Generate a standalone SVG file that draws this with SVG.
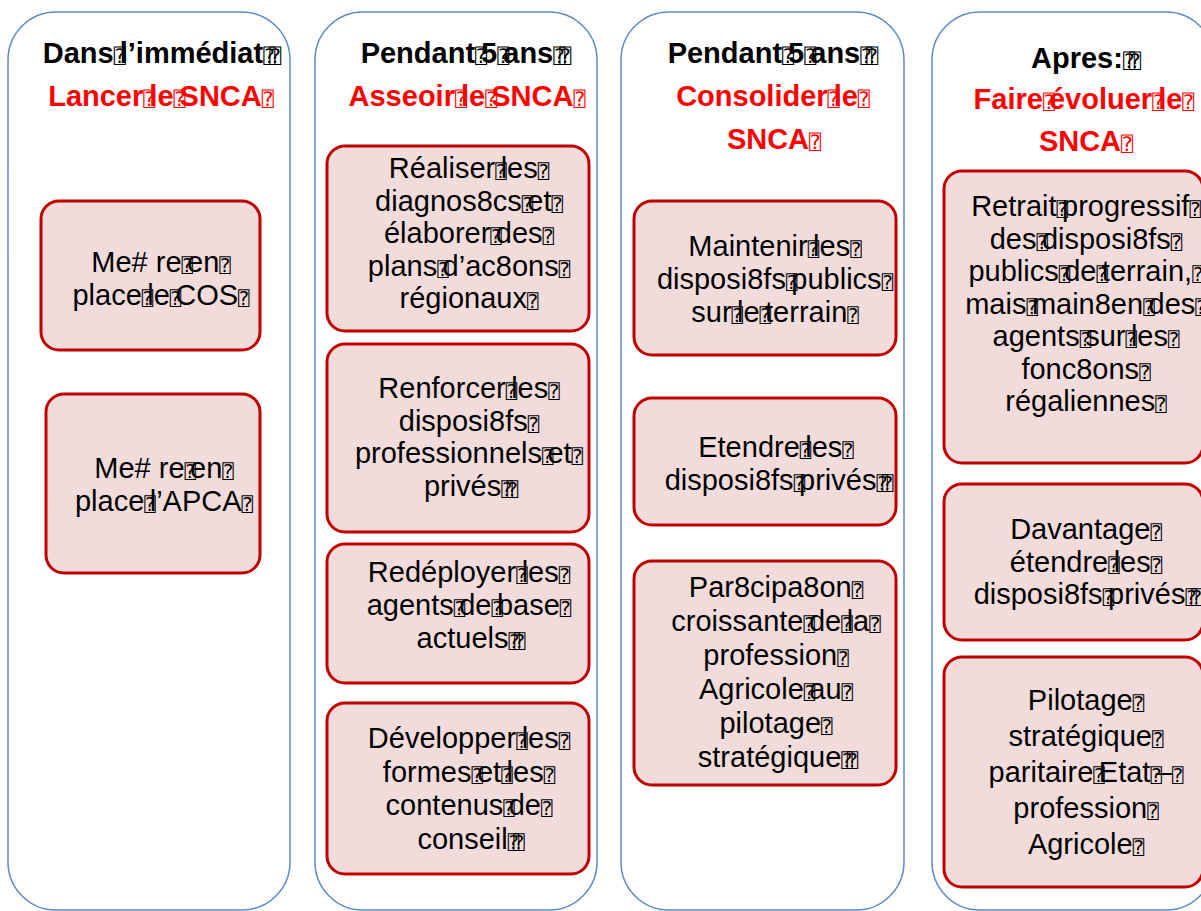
<svg xmlns="http://www.w3.org/2000/svg" width="1201" height="911" viewBox="0 0 1201 911">
<style>
.col{fill:#ffffff;stroke:#5b8bc9;stroke-width:1.5}
.box{fill:#f2dcdb;stroke:#c00000;stroke-width:3}
.h{font-family:"Liberation Sans",Arial,sans-serif;font-weight:bold;font-size:29px;fill:#000;text-anchor:middle}
.hr{font-family:"Liberation Sans",Arial,sans-serif;font-weight:bold;font-size:29px;fill:#ff0000;text-anchor:middle}
.t{font-family:"Liberation Sans",Arial,sans-serif;font-size:29px;fill:#000;text-anchor:middle}
.q{font-family:"DejaVu Sans","DejaVu Sans Mono",sans-serif;font-size:19px;font-weight:normal;letter-spacing:-6px}
.qh{font-family:"DejaVu Sans","DejaVu Sans Mono",sans-serif;font-size:20px;font-weight:normal;letter-spacing:-6px}
</style>
<rect width="1201" height="911" fill="#ffffff"/>
<g id="connectors"/>

<g id="col1">
<rect class="col" x="8" y="12" width="282" height="898" rx="48"/>
<text class="h" x="159" y="63">Dans<tspan class="qh">⍰</tspan>l’immédiat<tspan class="qh">⍰⍰</tspan></text>
<text class="hr" x="158" y="106">Lancer<tspan class="qh">⍰</tspan>le<tspan class="qh">⍰</tspan>SNCA<tspan class="qh">⍰</tspan></text>
</g>
<g id="c1b1">
<rect class="box" x="41" y="201" width="219" height="149" rx="18"/>
<text class="t" x="158" y="272">Me# re<tspan class="q">⍰</tspan>en<tspan class="q">⍰</tspan></text>
<text class="t" x="158" y="305">place<tspan class="q">⍰</tspan>le<tspan class="q">⍰</tspan>COS<tspan class="q">⍰</tspan></text>
</g>
<g id="c1b2">
<rect class="box" x="46" y="394" width="214" height="179" rx="18"/>
<text class="t" x="161" y="478">Me# re<tspan class="q">⍰</tspan>en<tspan class="q">⍰</tspan></text>
<text class="t" x="161" y="511">place<tspan class="q">⍰</tspan>l’APCA<tspan class="q">⍰</tspan></text>
</g>

<g id="col2">
<rect class="col" x="315" y="12" width="282" height="898" rx="48"/>
<text class="h" x="463" y="63">Pendant<tspan class="qh">⍰</tspan>5<tspan class="qh">⍰</tspan>ans<tspan class="qh">⍰⍰</tspan></text>
<text class="hr" x="464" y="106">Asseoir<tspan class="qh">⍰</tspan>le<tspan class="qh">⍰</tspan>SNCA<tspan class="qh">⍰</tspan></text>
</g>
<g id="c2b1">
<rect class="box" x="327" y="146" width="262" height="185" rx="18"/>
<text class="t" x="466" y="178">Réaliser<tspan class="q">⍰</tspan>les<tspan class="q">⍰</tspan></text>
<text class="t" x="466" y="210.5">diagnos8cs<tspan class="q">⍰</tspan>et<tspan class="q">⍰</tspan></text>
<text class="t" x="466" y="243">élaborer<tspan class="q">⍰</tspan>des<tspan class="q">⍰</tspan></text>
<text class="t" x="466" y="275.5">plans<tspan class="q">⍰</tspan>d’ac8ons<tspan class="q">⍰</tspan></text>
<text class="t" x="466" y="308">régionaux<tspan class="q">⍰</tspan></text>
</g>
<g id="c2b2">
<rect class="box" x="327" y="344" width="262" height="188" rx="18"/>
<text class="t" x="466" y="398">Renforcer<tspan class="q">⍰</tspan>les<tspan class="q">⍰</tspan></text>
<text class="t" x="466" y="430.5">disposi8fs<tspan class="q">⍰</tspan></text>
<text class="t" x="466" y="463">professionnels<tspan class="q">⍰</tspan>et<tspan class="q">⍰</tspan></text>
<text class="t" x="468" y="495.5">privés<tspan class="q">⍰⍰</tspan></text>
</g>
<g id="c2b3">
<rect class="box" x="327" y="544" width="262" height="139" rx="18"/>
<text class="t" x="466" y="582">Redéployer<tspan class="q">⍰</tspan>les<tspan class="q">⍰</tspan></text>
<text class="t" x="466" y="615">agents<tspan class="q">⍰</tspan>de<tspan class="q">⍰</tspan>base<tspan class="q">⍰</tspan></text>
<text class="t" x="468" y="648">actuels<tspan class="q">⍰⍰</tspan></text>
</g>
<g id="c2b4">
<rect class="box" x="327" y="703" width="262" height="171" rx="18"/>
<text class="t" x="466" y="748">Développer<tspan class="q">⍰</tspan>les<tspan class="q">⍰</tspan></text>
<text class="t" x="466" y="781.5">formes<tspan class="q">⍰</tspan>et<tspan class="q">⍰</tspan>les<tspan class="q">⍰</tspan></text>
<text class="t" x="466" y="815">contenus<tspan class="q">⍰</tspan>de<tspan class="q">⍰</tspan></text>
<text class="t" x="468" y="848.5">conseil<tspan class="q">⍰⍰</tspan></text>
</g>

<g id="col3">
<rect class="col" x="621" y="12" width="283" height="898" rx="48"/>
<text class="h" x="770" y="63">Pendant<tspan class="qh">⍰</tspan>5<tspan class="qh">⍰</tspan>ans<tspan class="qh">⍰⍰</tspan></text>
<text class="hr" x="770" y="106">Consolider<tspan class="qh">⍰</tspan>le<tspan class="qh">⍰</tspan></text>
<text class="hr" x="771" y="149">SNCA<tspan class="qh">⍰</tspan></text>
</g>
<g id="c3b1">
<rect class="box" x="634" y="201" width="262" height="154" rx="18"/>
<text class="t" x="772" y="256">Maintenir<tspan class="q">⍰</tspan>les<tspan class="q">⍰</tspan></text>
<text class="t" x="772" y="289">disposi8fs<tspan class="q">⍰</tspan>publics<tspan class="q">⍰</tspan></text>
<text class="t" x="772" y="322">sur<tspan class="q">⍰</tspan>le<tspan class="q">⍰</tspan>terrain<tspan class="q">⍰</tspan></text>
</g>
<g id="c3b2">
<rect class="box" x="634" y="398" width="262" height="127" rx="18"/>
<text class="t" x="773" y="457">Etendre<tspan class="q">⍰</tspan>les<tspan class="q">⍰</tspan></text>
<text class="t" x="776" y="490">disposi8fs<tspan class="q">⍰</tspan>privés<tspan class="q">⍰⍰</tspan></text>
</g>
<g id="c3b3">
<rect class="box" x="634" y="561" width="262" height="224" rx="18"/>
<text class="t" x="773" y="597">Par8cipa8on<tspan class="q">⍰</tspan></text>
<text class="t" x="773" y="631">croissante<tspan class="q">⍰</tspan>de<tspan class="q">⍰</tspan>la<tspan class="q">⍰</tspan></text>
<text class="t" x="773" y="665">profession<tspan class="q">⍰</tspan></text>
<text class="t" x="773" y="699">Agricole<tspan class="q">⍰</tspan>au<tspan class="q">⍰</tspan></text>
<text class="t" x="773" y="733">pilotage<tspan class="q">⍰</tspan></text>
<text class="t" x="775" y="767">stratégique<tspan class="q">⍰⍰</tspan></text>
</g>

<g id="col4">
<rect class="col" x="932" y="12" width="282" height="898" rx="48"/>
<text class="h" x="1083" y="68">Apres:<tspan class="qh">⍰⍰</tspan></text>
<text class="hr" x="1081" y="109">Faire<tspan class="qh">⍰</tspan>évoluer<tspan class="qh">⍰</tspan>le<tspan class="qh">⍰</tspan></text>
<text class="hr" x="1083" y="151">SNCA<tspan class="qh">⍰</tspan></text>
</g>
<g id="c4b1">
<rect class="box" x="944" y="171" width="259" height="292" rx="18"/>
<text class="t" x="1083" y="216">Retrait<tspan class="q">⍰</tspan>progressif<tspan class="q">⍰</tspan></text>
<text class="t" x="1083" y="248.5">des<tspan class="q">⍰</tspan>disposi8fs<tspan class="q">⍰</tspan></text>
<text class="t" x="1083" y="281">publics<tspan class="q">⍰</tspan>de<tspan class="q">⍰</tspan>terrain,<tspan class="q">⍰</tspan></text>
<text class="t" x="1083" y="313.5">mais<tspan class="q">⍰</tspan>main8en<tspan class="q">⍰</tspan>des<tspan class="q">⍰</tspan></text>
<text class="t" x="1083" y="346">agents<tspan class="q">⍰</tspan>sur<tspan class="q">⍰</tspan>les<tspan class="q">⍰</tspan></text>
<text class="t" x="1083" y="378.5">fonc8ons<tspan class="q">⍰</tspan></text>
<text class="t" x="1083" y="411">régaliennes<tspan class="q">⍰</tspan></text>
</g>
<g id="c4b2">
<rect class="box" x="944" y="484" width="259" height="156" rx="18"/>
<text class="t" x="1083" y="539">Davantage<tspan class="q">⍰</tspan></text>
<text class="t" x="1083" y="571.5">étendre<tspan class="q">⍰</tspan>les<tspan class="q">⍰</tspan></text>
<text class="t" x="1085" y="604">disposi8fs<tspan class="q">⍰</tspan>privés<tspan class="q">⍰⍰</tspan></text>
</g>
<g id="c4b3">
<rect class="box" x="944" y="657" width="259" height="230" rx="18"/>
<text class="t" x="1083" y="710">Pilotage<tspan class="q">⍰</tspan></text>
<text class="t" x="1083" y="746">stratégique<tspan class="q">⍰</tspan></text>
<text class="t" x="1083" y="782">paritaire<tspan class="q">⍰</tspan>Etat<tspan class="q">⍰</tspan>–<tspan class="q">⍰</tspan></text>
<text class="t" x="1083" y="818">profession<tspan class="q">⍰</tspan></text>
<text class="t" x="1083" y="854">Agricole<tspan class="q">⍰</tspan></text>
</g>
</svg>
